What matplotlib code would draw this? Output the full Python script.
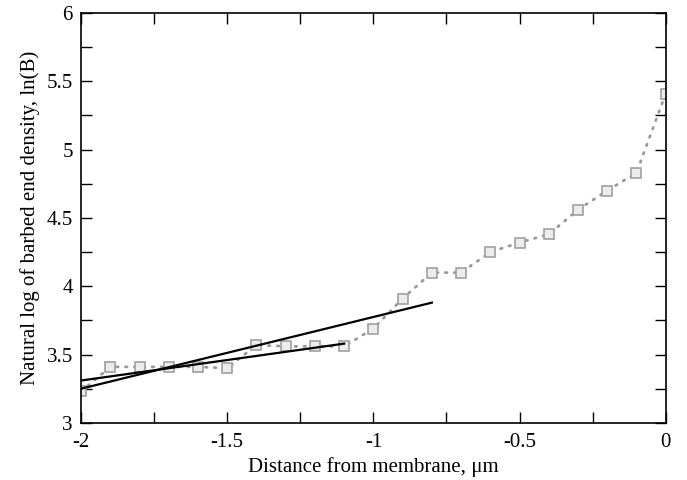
import matplotlib
matplotlib.use("Agg")
import matplotlib.pyplot as plt
from matplotlib.ticker import MultipleLocator, FormatStrFormatter

# measured ln(B) vs distance from membrane
dist = [-2.0, -1.9, -1.8, -1.7, -1.6, -1.5, -1.4, -1.3, -1.2, -1.1, -1.0,
        -0.9, -0.8, -0.7, -0.6, -0.5, -0.4, -0.3, -0.2, -0.1, 0.0]
lnB = [3.23, 3.41, 3.41, 3.41, 3.41, 3.40, 3.57, 3.56, 3.56, 3.56, 3.69,
       3.91, 4.10, 4.10, 4.25, 4.32, 4.38, 4.56, 4.70, 4.83, 5.41]

# two linear fits (end points)
fit1_x = [-2.0, -0.8]
fit1_y = [3.25, 3.88]
fit2_x = [-2.0, -1.1]
fit2_y = [3.31, 3.58]

plt.rcParams['font.family'] = ['Liberation Serif', 'DejaVu Serif']
plt.rcParams['font.size'] = 15

fig = plt.figure(figsize=(6.87, 4.8), dpi=100)
ax = fig.add_axes([0.118, 0.119, 0.851, 0.854])

ax.plot(dist, lnB, linestyle=(0, (0.6, 2.6)), dash_capstyle='round', color='#999999',
        linewidth=2.0, marker='s', markersize=7, markerfacecolor='#ececec',
        markeredgecolor='#a0a0a0', markeredgewidth=1.2, zorder=2)
ax.plot(fit1_x, fit1_y, color='black', linewidth=1.6, zorder=3)
ax.plot(fit2_x, fit2_y, color='black', linewidth=1.6, zorder=3)

ax.set_xlim(-2, 0)
ax.set_ylim(3, 6)
ax.xaxis.set_major_locator(MultipleLocator(0.5))
ax.xaxis.set_minor_locator(MultipleLocator(0.25))
ax.yaxis.set_major_locator(MultipleLocator(0.5))
ax.yaxis.set_minor_locator(MultipleLocator(0.25))
ax.xaxis.set_major_formatter(FormatStrFormatter('%g'))
ax.yaxis.set_major_formatter(FormatStrFormatter('%g'))
ax.tick_params(which='both', direction='in', top=True, right=True, length=8, width=1)
ax.tick_params(axis='x', pad=7)
ax.tick_params(axis='y', pad=6)
for s in ax.spines.values():
    s.set_linewidth(1.2)

ax.set_xlabel('Distance from membrane, \u03bcm', labelpad=4)
ax.set_ylabel('Natural log of barbed end density, ln(B)', labelpad=5)

fig.savefig('out.png', dpi=100)
